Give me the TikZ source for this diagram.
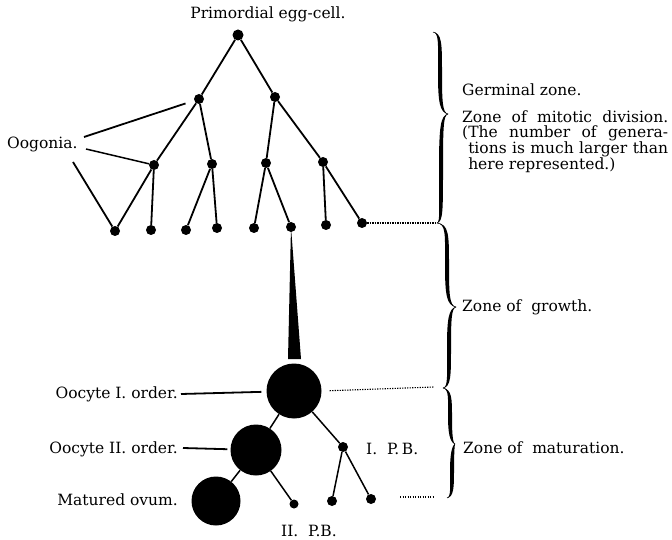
\documentclass[tikz,border=0pt]{standalone}
\usepackage{fontspec}
\setmainfont{DejaVu Serif}
\newcommand\halfbrace[5]{% x0 y0 stem xtip ytip
  \pgfmathsetmacro\hbd{ifthenelse(#5>#2,1,-1)}%
  \pgfmathsetmacro\hbm{(#2+#5)/2}%
  \pgfmathsetmacro\hba{#2+\hbd*12}%
  \pgfmathsetmacro\hbb{#5-\hbd*12}%
  \pgfmathsetmacro\hbc{#2+\hbd*1}%
  \pgfmathsetmacro\hbe{#5-\hbd*1.5}%
  \fill (#1,#2) .. controls (#3+2,\hbc) and (#3+2,\hba) .. (#3+2,\hbm)
     .. controls (#3+2,\hbb) and (#3+2.5,\hbe) .. (#4,#5)
     .. controls (#3-0.4,\hbe) and (#3-2,\hbb) .. (#3-2,\hbm)
     .. controls (#3-2,\hba) and (#3-0.8,\hbc) .. (#1,#2) -- cycle;
  \draw[line width=0.5pt] (#1,#2) .. controls (#3,\hbc) and (#3,\hba) .. (#3,\hbm)
     .. controls (#3,\hbb) and (#3+1,\hbe) .. (#4,#5);
}
\begin{document}
\begin{tikzpicture}[x=1pt,y=-1pt,
  dot/.style={circle,fill=black,inner sep=0pt,minimum size=10pt},
  cell/.style={circle,fill=black,inner sep=0pt},
  edge/.style={line width=1.8pt},
  ptr/.style={line width=1.5pt},
  dotline/.style={line width=1.1pt,dash pattern=on 1.3pt off 1.2pt},
  lbl/.style={inner sep=0pt,font=\fontsize{15.5}{14.5}\selectfont}]
\useasboundingbox (0,0) rectangle (672,540);
% tree
\node[dot,minimum size=11pt] (root) at (238,35) {};
\node[dot] (a1) at (199,99) {};
\node[dot] (a2) at (275,97) {};
\node[dot] (b1) at (154,165) {};
\node[dot] (b2) at (212,164) {};
\node[dot] (b3) at (266,163) {};
\node[dot] (b4) at (323,162) {};
\node[dot] (c1) at (115,231) {};
\node[dot] (c2) at (151,230) {};
\node[dot] (c3) at (186,230) {};
\node[dot] (c4) at (217,228) {};
\node[dot] (c5) at (254,228) {};
\node[dot] (c6) at (291,227) {};
\node[dot] (c7) at (326,225) {};
\node[dot] (c8) at (362,223) {};
\draw[edge] (root) -- (a1);
\draw[edge] (root) -- (a2);
\draw[edge] (a1) -- (b1);
\draw[edge] (a1) -- (b2);
\draw[edge] (a2) -- (b3);
\draw[edge] (a2) -- (b4);
\draw[edge] (b1) -- (c1);
\draw[edge] (b1) -- (c2);
\draw[edge] (b2) -- (c3);
\draw[edge] (b2) -- (c4);
\draw[edge] (b3) -- (c5);
\draw[edge] (b3) -- (c6);
\draw[edge] (b4) -- (c7);
\draw[edge] (b4) -- (c8);
% labels top
\node[lbl] (prim) at (268,14) {Primordial egg-cell.};
\node[lbl,anchor=west] (oog) at (7,144) {Oogonia.};
\coordinate (og1) at (84,137);
\coordinate (og2) at (86,149);
\coordinate (og3) at (73,162);
\draw[ptr,line width=1.8pt,shorten >=9pt] (og1) -- (a1);
\draw[ptr] (og2) -- (b1);
\draw[ptr,line width=1.8pt] (og3) -- (c1);
% spindle
\coordinate (sp1) at (288,359);
\coordinate (sp2) at (301,359);
\fill (c6.center) -- (sp1) -- (sp2) -- cycle;
% oocytes
\node[cell,minimum size=55pt] (O1) at (294,391) {};
\node[cell,minimum size=51pt] (O2) at (256,450) {};
\node[cell,minimum size=49pt] (O3) at (216,501) {};
\node[dot] (P1) at (343,447) {};
\node[dot,minimum size=9pt] (P2) at (294,504) {};
\node[dot] (P1a) at (332,501) {};
\node[dot] (P1b) at (371,499) {};
\draw[ptr] (O1) -- (O2);
\draw[ptr] (O2) -- (O3);
\draw[ptr] (O1) -- (P1);
\draw[ptr] (O2) -- (P2);
\draw[ptr] (P1) -- (P1a);
\draw[ptr] (P1) -- (P1b);
\node[lbl,anchor=east] (lo1) at (178,394) {Oocyte I. order.};
\node[lbl,anchor=east] (lo2) at (178,449) {Oocyte II. order.};
\node[lbl,anchor=east] (lo3) at (178,500) {Matured ovum.};
\node[lbl,anchor=west] (lpb1) at (366,449) {I.\ \ P.\,B.};
\node[lbl] (lpb2) at (309,531) {II.\ \ P.B.};
\coordinate (lo1e) at (181,394);
\coordinate (lo2e) at (183,448);
\draw[ptr,line width=1.8pt,shorten >=5pt] (lo1e) -- (O1);
\draw[ptr,line width=1.8pt,shorten >=3pt] (lo2e) -- (O2);
% dotted leaders
\coordinate (k1) at (437,223);
\coordinate (k2) at (434,387);
\coordinate (k3a) at (400,497);
\coordinate (k3b) at (434,497);
\draw[dotline] (c8) -- (k1);
\draw[dotline,shorten <=8pt] (O1.east) -- (k2);
\draw[dotline] (k3a) -- (k3b);
% braces
\halfbrace{433}{32}{440}{448}{114}
\halfbrace{437}{223}{441}{448}{114}
\halfbrace{437}{223}{447}{456}{307}
\halfbrace{443}{388}{449}{456}{307}
\halfbrace{443}{388}{450}{455}{444}
\halfbrace{447}{498}{452}{455}{444}
% right texts
\node[lbl,anchor=west] (tg) at (462,90) {Germinal zone.};
\node[lbl,anchor=north west,align=left] (tm) at (462,111) {%
  \makebox[206pt][s]{Zone of mitotic division.}\\
  \makebox[206pt][s]{(The number of genera-}\\
  \makebox[206pt][s]{\phantom{(}tions is much larger than}\\
  \phantom{(}here represented.)};
\node[lbl,anchor=west] (tgr) at (462,307) {Zone of\ \ growth.};
\node[lbl,anchor=west] (tma) at (463,448) {Zone of\ \ maturation.};
\end{tikzpicture}
\end{document}
